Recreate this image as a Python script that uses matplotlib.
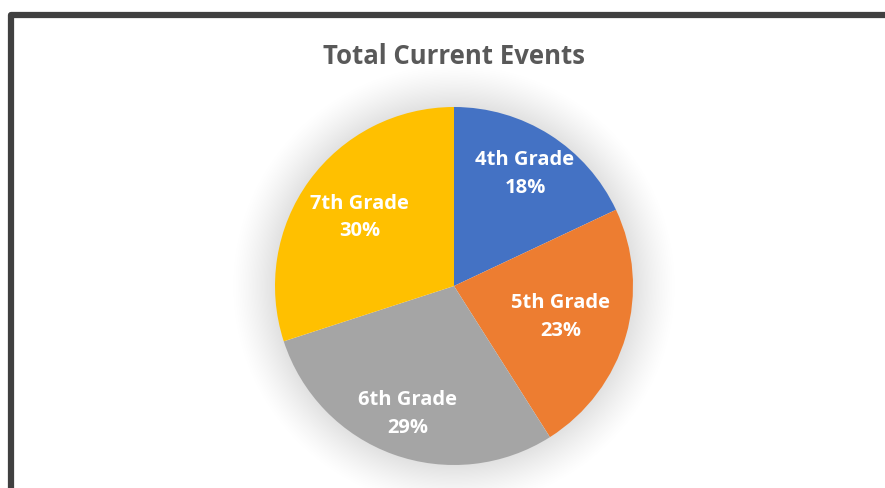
import matplotlib
matplotlib.use("Agg")
import matplotlib.pyplot as plt
import numpy as np

categories = ["4th Grade", "5th Grade", "6th Grade", "7th Grade"]
values = [18, 23, 29, 30]
colors = ["#4472C4", "#ED7D31", "#A5A5A5", "#FFC000"]
label_dist = [0.74, 0.62, 0.76, 0.65]
title = "Total Current Events"

W, H = 885, 488
fig = plt.figure(figsize=(W / 100, H / 100), dpi=100)
ax = fig.add_axes([0, 0, 1, 1])
ax.set_xlim(0, W)
ax.set_ylim(0, H)
ax.set_aspect("equal")
ax.axis("off")

cx, cy, R = 454, 488 - 286, 179

# soft shadow/glow
yy, xx = np.mgrid[0:H, 0:W]
r = np.hypot(xx + 0.5 - cx, (H - yy - 0.5) - cy)
d = np.clip((r - R) / 45.0, 0, 1)
alpha = np.where(r > R - 2, 0.12 * (1 - d) ** 1.3, 0)
img = np.zeros((H, W, 4))
img[..., :3] = 0.0
img[..., 3] = alpha
ax.imshow(img, extent=(0, W, 0, H), origin="upper", zorder=1, interpolation="bilinear")

wedges, _ = ax.pie(values, colors=colors, startangle=90, counterclock=False,
                   center=(cx, cy), radius=R, frame=True,
                   wedgeprops=dict(linewidth=0), normalize=True)
for w in wedges:
    w.set_zorder(2)
ax.set_xlim(0, W)
ax.set_ylim(0, H)
ax.axis("off")

font = "Open Sans"
for w, cat, v, ld in zip(wedges, categories, values, label_dist):
    ang = np.deg2rad((w.theta1 + w.theta2) / 2)
    x = cx + ld * R * np.cos(ang)
    y = cy + ld * R * np.sin(ang)
    ax.text(x, y, f"{cat}\n{v}%", ha="center", va="center", color="white",
            fontsize=14.5, fontweight="bold", family=font, linespacing=1.5, zorder=3)

fig.text(454 / W, 1 - 56 / H, title, ha="center", va="center", color="#595959",
         fontsize=18.5, fontweight="bold", family=font)

# chart border (cut off at right and bottom)
ax.plot([10.5, 10.5, W + 5], [-5, H - 14.5, H - 14.5], color="#404040",
        linewidth=4.5, solid_joinstyle="round", zorder=5, clip_on=False)

fig.savefig("out.png", dpi=100, facecolor="white")
